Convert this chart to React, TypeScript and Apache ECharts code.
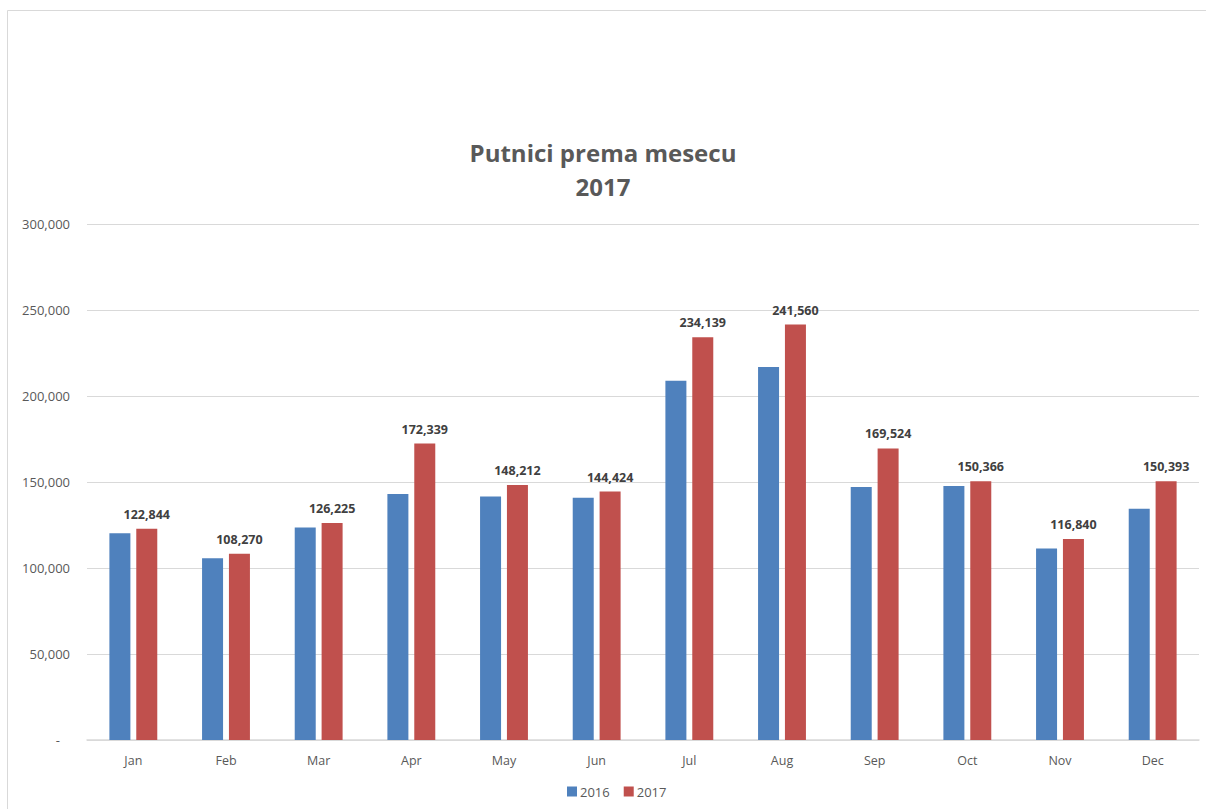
import React, { useEffect, useRef } from "react";
import * as echarts from "echarts";

const months = ["Jan", "Feb", "Mar", "Apr", "May", "Jun", "Jul", "Aug", "Sep", "Oct", "Nov", "Dec"];
const values2016 = [120200, 105600, 123600, 143000, 141500, 140900, 208900, 216900, 147100, 147700, 111400, 134500];
const values2017 = [122844, 108270, 126225, 172339, 148212, 144424, 234139, 241560, 169524, 150366, 116840, 150393];
const seriesNames = ["2016", "2017"];
const titleText = "Putnici prema mesecu\n2017";

const FONT = "'Open Sans', sans-serif";

const fmt = (v: number) => v.toLocaleString("en-US");

export default function App() {
  const ref = useRef<HTMLDivElement>(null);
  useEffect(() => {
    if (!ref.current) return;
    const chart = echarts.init(ref.current, undefined, { renderer: "svg" });
    chart.setOption({
      animation: false,
      backgroundColor: "#ffffff",
      textStyle: { fontFamily: FONT },
      title: {
        text: titleText,
        left: "center",
        top: 130,
        textStyle: {
          fontFamily: FONT,
          fontSize: 24,
          fontWeight: "bold",
          color: "#595959",
          lineHeight: 34,
        },
      },
      graphic: [
        {
          type: "polyline",
          shape: { points: [[7.5, 809], [7.5, 10.5], [1206, 10.5]] },
          style: { stroke: "#D9D9D9", fill: "none", lineWidth: 1 },
          silent: true,
        },
      ],
      legend: {
        bottom: 6,
        left: 562,
        itemWidth: 10,
        itemHeight: 10,
        itemGap: 14,
        icon: "rect",
        textStyle: { fontFamily: FONT, fontSize: 13, color: "#595959", padding: [0, 0, 0, -2] },
        data: seriesNames,
      },
      grid: { left: 87, right: 7, top: 224, bottom: 69 },
      xAxis: {
        type: "category",
        data: months,
        axisLine: { lineStyle: { color: "#D9D9D9", width: 1.5 } },
        axisTick: { show: false },
        axisLabel: { color: "#595959", fontSize: 12.5, margin: 14, fontFamily: FONT },
      },
      yAxis: {
        type: "value",
        min: 0,
        max: 300000,
        interval: 50000,
        axisLine: { show: false },
        axisTick: { show: false },
        splitLine: { lineStyle: { color: "#D9D9D9", width: 1 } },
        axisLabel: {
          color: "#595959",
          fontSize: 13,
          margin: 17,
          fontFamily: FONT,
          formatter: (v: number) => (v === 0 ? "{d|-}" : fmt(v)),
          rich: { d: { color: "#595959", fontSize: 13, padding: [0, 10, 0, 0], fontFamily: FONT } },
        },
      },
      series: [
        {
          name: seriesNames[0],
          type: "bar",
          data: values2016,
          barWidth: 21,
          barGap: "28%",
          itemStyle: { color: "#4F81BD" },
        },
        {
          name: seriesNames[1],
          type: "bar",
          data: values2017,
          barWidth: 21,
          itemStyle: { color: "#C0504D" },
          label: {
            show: true,
            position: "top",
            distance: 8,
            fontFamily: FONT,
            fontSize: 12.5,
            fontWeight: "bold",
            color: "#404040",
            formatter: (p: any) => fmt(p.value),
          },
        },
      ],
    });
    return () => chart.dispose();
  }, []);
  return (
    <div
      ref={ref}
      style={{ position: "fixed", left: 0, top: 0, width: 1206, height: 809 }}
    />
  );
}
